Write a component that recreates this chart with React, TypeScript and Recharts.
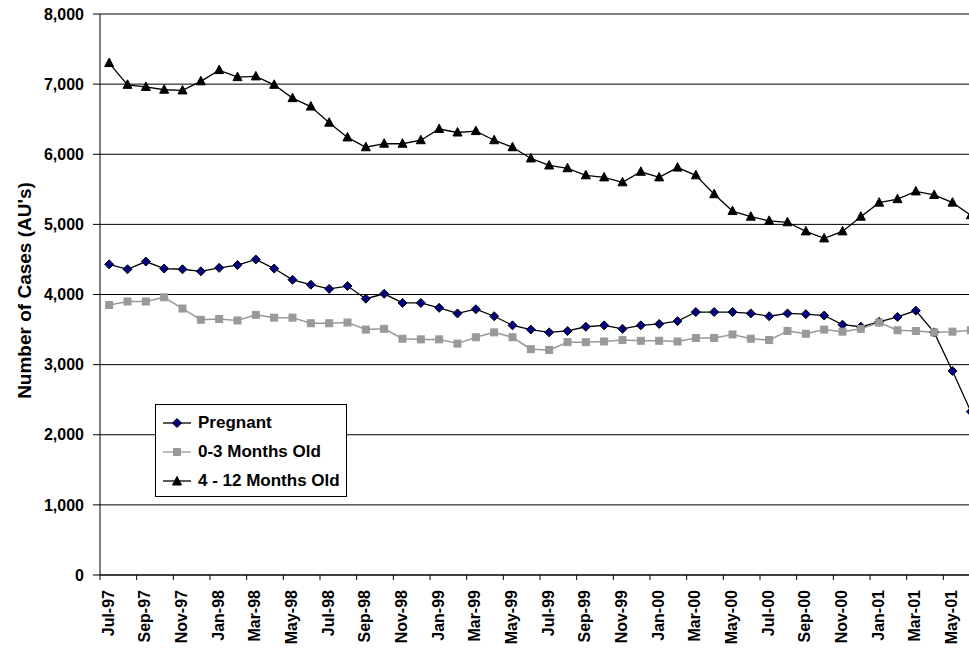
import { LineChart, Line, XAxis, YAxis, CartesianGrid } from "recharts";

const MONTHS = [
    "Jul-97", "Aug-97", "Sep-97", "Oct-97", "Nov-97", "Dec-97",
    "Jan-98", "Feb-98", "Mar-98", "Apr-98", "May-98", "Jun-98",
    "Jul-98", "Aug-98", "Sep-98", "Oct-98", "Nov-98", "Dec-98",
    "Jan-99", "Feb-99", "Mar-99", "Apr-99", "May-99", "Jun-99",
    "Jul-99", "Aug-99", "Sep-99", "Oct-99", "Nov-99", "Dec-99",
    "Jan-00", "Feb-00", "Mar-00", "Apr-00", "May-00", "Jun-00",
    "Jul-00", "Aug-00", "Sep-00", "Oct-00", "Nov-00", "Dec-00",
    "Jan-01", "Feb-01", "Mar-01", "Apr-01", "May-01", "Jun-01",
];

const PREGNANT = [
    4430, 4360, 4470, 4370, 4360, 4330, 4380, 4420, 4500, 4370, 4210, 4140,
    4080, 4120, 3940, 4010, 3880, 3880, 3810, 3730, 3790, 3690, 3560, 3500,
    3460, 3480, 3540, 3560, 3510, 3560, 3580, 3620, 3750, 3750, 3750, 3730,
    3690, 3730, 3720, 3700, 3570, 3540, 3610, 3680, 3770, 3460, 2910, 2330,
];

const ZERO_TO_THREE = [
    3850, 3900, 3900, 3960, 3800, 3640, 3650, 3630, 3710, 3670, 3670, 3590,
    3590, 3600, 3500, 3510, 3370, 3360, 3360, 3300, 3390, 3460, 3390, 3220,
    3210, 3320, 3320, 3330, 3350, 3340, 3340, 3330, 3380, 3380, 3430, 3370,
    3350, 3480, 3440, 3500, 3470, 3510, 3600, 3490, 3480, 3460, 3470, 3490,
];

const FOUR_TO_TWELVE = [
    7300, 6990, 6960, 6920, 6910, 7040, 7200, 7100, 7110, 6990, 6800, 6680,
    6450, 6240, 6100, 6150, 6150, 6200, 6360, 6310, 6330, 6200, 6100, 5940,
    5840, 5800, 5700, 5670, 5600, 5750, 5670, 5810, 5700, 5430, 5190, 5110,
    5050, 5030, 4900, 4800, 4900, 5110, 5310, 5360, 5470, 5420, 5310, 5130,
];

const Y_TICKS = [0, 1000, 2000, 3000, 4000, 5000, 6000, 7000, 8000];

const SERIES_NAMES = ["Pregnant", "0-3 Months Old", "4 - 12 Months Old"];

const FONT = "Arial, 'Liberation Sans', sans-serif";
const CHART_W = 1000;
const CHART_H = 649;
const MARGIN = { top: 14, right: 20, left: 0, bottom: 0 };
const Y_AXIS_W = 100;
const X_AXIS_H = 74;
const PLOT_W = CHART_W - MARGIN.left - MARGIN.right - Y_AXIS_W;
const HALF = PLOT_W / MONTHS.length / 2;

const data = MONTHS.map((month, i) => ({
    month,
    pregnant: PREGNANT[i],
    zeroToThree: ZERO_TO_THREE[i],
    fourToTwelve: FOUR_TO_TWELVE[i],
}));

// markers, same look as the old Excel ones

function Diamond({ cx, cy }: any) {
    if (cx == null || cy == null) return null;
    const r = 4.5;
    return <polygon points={`${cx},${cy - r} ${cx + r},${cy} ${cx},${cy + r} ${cx - r},${cy}`} fill="#000080" stroke="#000" strokeWidth={1} />;
}

function Square({ cx, cy }: any) {
    if (cx == null || cy == null) return null;
    return <rect x={cx - 3.5} y={cy - 3.5} width={7} height={7} fill="#999999" stroke="#999999" />;
}

function Triangle({ cx, cy }: any) {
    if (cx == null || cy == null) return null;
    return <polygon points={`${cx},${cy - 5} ${cx + 4.5},${cy + 3.5} ${cx - 4.5},${cy + 3.5}`} fill="#000" stroke="#000" />;
}

function MonthTick({ x, y, payload }: any) {
    return (
        <g>
            <line x1={x - HALF} x2={x - HALF} y1={y} y2={y + 5} stroke="#000" />
            <text
                transform={`translate(${x - 1}, ${y + 15}) rotate(-90)`}
                textAnchor="end"
                dominantBaseline="central"
                fontFamily={FONT}
                fontWeight="bold"
                fontSize={16}
                fill="#000"
            >
                {payload.value}
            </text>
        </g>
    );
}

function YTitle({ viewBox }: any) {
    const x = viewBox.x + 24;
    const y = viewBox.y + viewBox.height / 2 - 4;
    return (
        <text x={x} y={y} transform={`rotate(-90, ${x}, ${y})`} textAnchor="middle" dominantBaseline="central"
            fontFamily={FONT} fontWeight="bold" fontSize={19} fill="#000">
            Number of Cases (AU's)
        </text>
    );
}

function LegendMarker({ index }: { index: number }) {
    const stroke = index === 1 ? "#999999" : "#000";
    return (
        <svg width={30} height={12} style={{ display: "block" }}>
            <line x1={1} x2={29} y1={6} y2={6} stroke={stroke} strokeWidth={1.3} />
            {index === 0 && <Diamond cx={15} cy={6} />}
            {index === 1 && <Square cx={15} cy={6} />}
            {index === 2 && <Triangle cx={15} cy={6.5} />}
        </svg>
    );
}

export default function App() {
    return (
        <div style={{ position: "absolute", left: 0, top: 0, width: 969, height: 649, overflow: "hidden", background: "#fff" }}>
            <LineChart width={CHART_W} height={CHART_H} data={data} margin={MARGIN}>
                <CartesianGrid vertical={false} stroke="#000" strokeWidth={1} />
                <XAxis
                    dataKey="month"
                    interval={1}
                    height={X_AXIS_H}
                    padding={{ left: HALF, right: HALF }}
                    tickLine={false}
                    tickSize={0}
                    tickMargin={0}
                    axisLine={{ stroke: "#000" }}
                    tick={<MonthTick />}
                />
                <YAxis
                    width={Y_AXIS_W}
                    domain={[0, 8000]}
                    ticks={Y_TICKS}
                    interval={0}
                    tickSize={7}
                    tickMargin={9}
                    tickFormatter={(v: number) => v.toLocaleString("en-US")}
                    tick={{ fontFamily: FONT, fontWeight: "bold", fontSize: 16, fill: "#000" }}
                    tickLine={{ stroke: "#000" }}
                    axisLine={{ stroke: "#000" }}
                    label={(props: any) => <YTitle {...props} />}
                />
                <Line dataKey="pregnant" name={SERIES_NAMES[0]} stroke="#000" strokeWidth={1.3}
                    dot={(p: any) => <Diamond key={p.index} {...p} />} activeDot={false} isAnimationActive={false} />
                <Line dataKey="zeroToThree" name={SERIES_NAMES[1]} stroke="#999999" strokeWidth={1.5}
                    dot={(p: any) => <Square key={p.index} {...p} />} activeDot={false} isAnimationActive={false} />
                <Line dataKey="fourToTwelve" name={SERIES_NAMES[2]} stroke="#000" strokeWidth={1.3}
                    dot={(p: any) => <Triangle key={p.index} {...p} />} activeDot={false} isAnimationActive={false} />
            </LineChart>

            <div style={{
                position: "absolute", left: 155, top: 404, width: 190, height: 88,
                border: "1px solid #000", background: "#fff", paddingTop: 3, boxSizing: "content-box",
            }}>
                {SERIES_NAMES.map((name, i) => (
                    <div key={name} style={{ display: "flex", alignItems: "center", height: 29, paddingLeft: 6 }}>
                        <LegendMarker index={i} />
                        <span style={{ marginLeft: 6, fontFamily: FONT, fontWeight: "bold", fontSize: 17, color: "#000" }}>{name}</span>
                    </div>
                ))}
            </div>
        </div>
    );
}
